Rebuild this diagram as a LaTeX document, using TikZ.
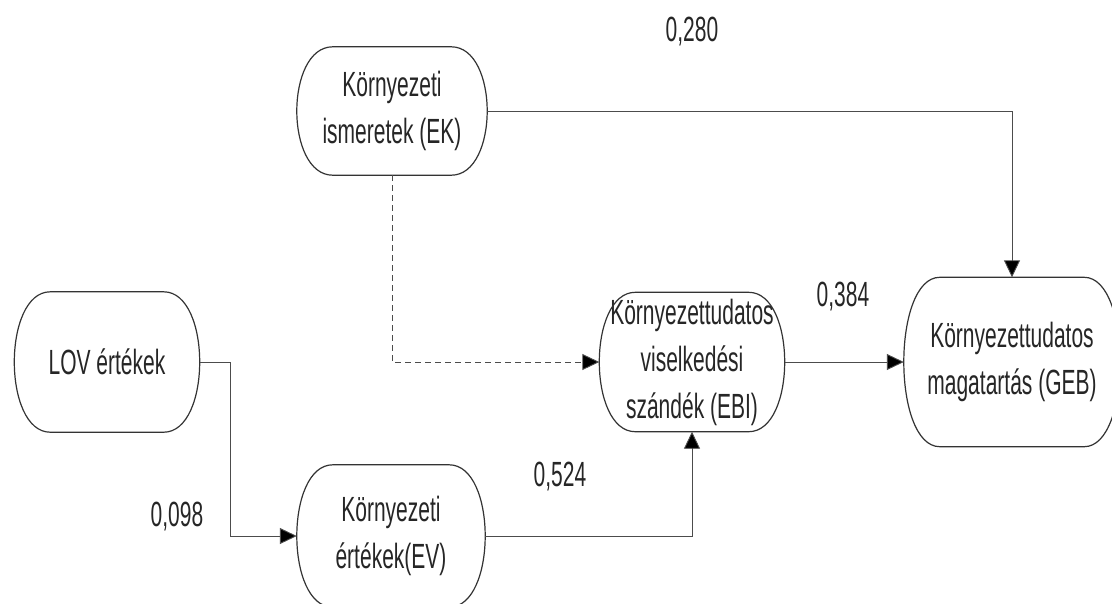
\documentclass[tikz,border=0pt]{standalone}
\usepackage{fontspec}
\setmainfont{Liberation Sans}[FakeStretch=0.6]
\usetikzlibrary{arrows.meta,calc}

% outline with bulging sides, drawn round a named node
\newcommand{\termoutline}[1]{%
  \draw[box line] ($(#1.north west)+(36,0)$) -- ($(#1.north east)+(-36,0)$)
    .. controls ($(#1.north east)+(12,0)$) and ($(#1.south east)+(12,0)$) .. ($(#1.south east)+(-36,0)$)
    -- ($(#1.south west)+(36,0)$)
    .. controls ($(#1.south west)+(-12,0)$) and ($(#1.north west)+(-12,0)$) .. cycle;}

\begin{document}
\begin{tikzpicture}[
    x=1pt, y=-1pt,
    every node/.style={align=center, text=black!85, font=\fontsize{35}{47}\selectfont},
    term/.style={inner sep=0pt},
    box line/.style={draw=black!80, line width=1.2pt},
    link/.style={draw=black!70, line width=0.9pt, -{Triangle[length=17pt,width=16pt,fill=black]}},
    dashed link/.style={link, dash pattern=on 6pt off 4pt},
    ]
\path[use as bounding box, fill=white] (0,0) rectangle (1112,603);
\node[term, minimum width=190pt, minimum height=128pt] (EK) at (392,111) {Környezeti\\ismeretek (EK)};
\node[term, minimum width=185pt, minimum height=140pt] (LOV) at (107,362) {LOV értékek};
\node[term, minimum width=185pt, minimum height=139pt] (EBI) at (692,362) {Környezettudatos\\viselkedési\\szándék (EBI)};
\node[term, minimum width=216pt, minimum height=169pt] (GEB) at (1012,362) {Környezettudatos\\magatartás (GEB)};
\node[term, minimum width=188pt, minimum height=142pt] (EV) at (391,536) {Környezeti\\értékek(EV)};
\termoutline{EK}
\termoutline{LOV}
\termoutline{EBI}
\termoutline{GEB}
\termoutline{EV}
% paths
\draw[link] (EK.east) -| (GEB.north);
\draw[dashed link] (EK.south) |- (EBI.west);
\draw[link] (LOV.east) -- ++(31,0) |- (EV.west);
\draw[link] (EV.east) -| (EBI.south);
\draw[link] (EBI.east) -- (GEB.west);
% coefficients
\node (w280) at (692,32) {0,280};
\node (w384) at (843,297) {0,384};
\node (w524) at (560,477) {0,524};
\node (w098) at (177,517) {0,098};
\end{tikzpicture}
\end{document}
